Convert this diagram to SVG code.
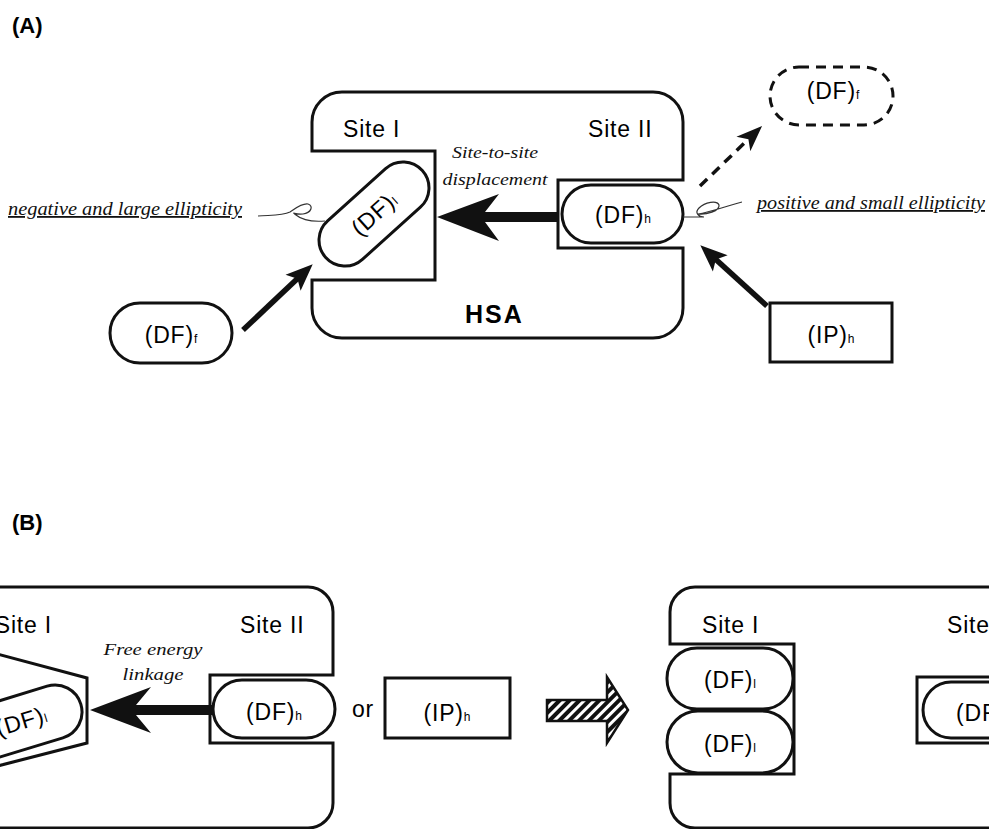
<svg xmlns="http://www.w3.org/2000/svg" width="989" height="829" viewBox="0 0 989 829">
  <style>
    .body { fill: none; stroke: #111; stroke-width: 3; stroke-linejoin: miter; }
    .pill { fill: #fff; stroke: #111; stroke-width: 3; }
    .dash { fill: #fff; stroke: #111; stroke-width: 3; stroke-dasharray: 10 7; }
    .lbl { font-family: "Liberation Sans", Arial, sans-serif; font-size: 23px; fill: #000; letter-spacing: 0.8px; }
    .sub { font-size: 12px; letter-spacing: 0; }
    .hsa { font-family: "Liberation Sans", Arial, sans-serif; font-size: 25px; font-weight: bold; fill: #000; letter-spacing: 2px; }
    .panel { font-family: "Liberation Sans", Arial, sans-serif; font-size: 22px; font-weight: bold; fill: #000; }
    .it { font-family: "Liberation Serif", "Times New Roman", serif; font-style: italic; font-size: 18px; fill: #111; }
    .note { font-family: "Liberation Serif", "Times New Roman", serif; font-style: italic; font-size: 16px; fill: #111; }
    .ul { text-decoration: underline; }
    .shaft { stroke: #111; stroke-width: 5.5; fill: none; }
    .dshaft { stroke: #111; stroke-width: 3.5; fill: none; stroke-dasharray: 10 7; }
    .curl { fill: none; stroke: #333; stroke-width: 1.2; }
    .big { fill: #111; }
  </style>
  <defs>
    <marker id="head" markerUnits="userSpaceOnUse" markerWidth="30" markerHeight="24" refX="12" refY="12" orient="auto">
      <path d="M0,1 L27,12 L0,23 L6,12 Z" fill="#111"/>
    </marker>
    <marker id="dhead" markerUnits="userSpaceOnUse" markerWidth="30" markerHeight="24" refX="12" refY="12" orient="auto">
      <path d="M0,2 L26,12 L0,22 L7,12 Z" fill="#111"/>
    </marker>
    <pattern id="hatch" patternUnits="userSpaceOnUse" width="7" height="7" patternTransform="rotate(45)">
      <rect width="7" height="7" fill="#fff"/>
      <rect width="4" height="7" fill="#111"/>
    </pattern>
  </defs>

  <rect width="989" height="829" fill="#fff"/>

  <!-- panel letters -->
  <text class="panel" x="12" y="33">(A)</text>
  <text class="panel" x="12" y="530">(B)</text>

  <!-- ===== Panel A ===== -->
  <g id="hsa-a">
    <path class="body" d="M312,151 V122 A30,30 0 0 1 342,92 H653 A30,30 0 0 1 683,122 V180 H558 V248 H683 V308 A30,30 0 0 1 653,338 H342 A30,30 0 0 1 312,308 V280 H435 V151 Z"/>
    <text class="lbl" x="343" y="137">Site I</text>
    <text class="lbl" x="588" y="137">Site II</text>
    <text class="hsa" x="465" y="323">HSA</text>
  </g>

  <g id="df-l-a">
    <g transform="rotate(-42 374 214)">
      <rect class="pill" x="309" y="188" width="130" height="52" rx="26"/>
      <text class="lbl" x="374" y="222" text-anchor="middle">(DF)<tspan class="sub">l</tspan></text>
    </g>
  </g>

  <g id="df-h-a">
    <rect class="pill" x="562" y="185" width="121" height="58" rx="29"/>
    <text class="lbl" x="623" y="223" text-anchor="middle">(DF)<tspan class="sub">h</tspan></text>
  </g>

  <g id="df-f-a">
    <rect class="pill" x="110" y="303" width="122" height="60" rx="30"/>
    <text class="lbl" x="171" y="343" text-anchor="middle">(DF)<tspan class="sub">f</tspan></text>
  </g>

  <g id="df-f-released">
    <rect class="dash" x="770" y="67" width="123" height="58" rx="29"/>
    <text class="lbl" x="833" y="99" text-anchor="middle">(DF)<tspan class="sub">f</tspan></text>
  </g>

  <g id="ip-h-a">
    <rect class="pill" x="770" y="303" width="122" height="59"/>
    <text class="lbl" x="831" y="343" text-anchor="middle">(IP)<tspan class="sub">h</tspan></text>
  </g>

  <g id="labels-a">
    <text class="it ul" x="8" y="215" textLength="234" lengthAdjust="spacingAndGlyphs">negative and large ellipticity</text>
    <text class="it ul" x="757" y="209" textLength="228" lengthAdjust="spacingAndGlyphs">positive and small ellipticity</text>
    <text class="note" x="495" y="158" text-anchor="middle" textLength="86" lengthAdjust="spacingAndGlyphs">Site-to-site</text>
    <text class="note" x="495" y="185" text-anchor="middle" textLength="105" lengthAdjust="spacingAndGlyphs">displacement</text>
  </g>

  <g id="connectors-a">
    <!-- ellipticity curls -->
    <path class="curl" d="M258,216 C270,215 282,216 290,212 C296,208 302,203 308,204 C314,206 311,213 303,214 C295,215 291,211 296,215 C302,220 312,222 325,221"/>
    <path class="curl" d="M683,217 L704,217 C699,217 694,213 699,208 C705,202 717,200 719,205 C720,211 706,215 698,214 C711,212 726,206 742,202"/>
    <!-- bound drug moves from site II to site I -->
    <path class="big" d="M437,217 L499,194 L485,212 L558,212 L558,222 L485,222 L499,241 Z"/>
    <!-- free drug binds site I -->
    <line class="shaft" x1="243" y1="330" x2="301.8" y2="274.6" marker-end="url(#head)"/>
    <!-- displacer binds site II -->
    <line class="shaft" x1="767" y1="306" x2="711.4" y2="255.4" marker-end="url(#head)"/>
    <!-- drug released from site II -->
    <line class="dshaft" x1="700" y1="186" x2="752" y2="135.7" marker-end="url(#dhead)"/>
  </g>

  <!-- ===== Panel B ===== -->
  <g id="hsa-b-left">
    <path class="body" d="M-10,587 H308 A25,25 0 0 1 333,612 V675 H210 V743 H333 V803 A25,25 0 0 1 308,828 H-10"/>
    <path class="body" d="M-10,652 L87,678 V743 L-10,768"/>
    <text class="lbl" x="52" y="633" text-anchor="end">Site I</text>
    <text class="lbl" x="240" y="633">Site II</text>
  </g>

  <g id="df-l-b">
    <g transform="rotate(-17 55 712)">
      <rect class="pill" x="-68" y="685" width="150" height="54" rx="27"/>
      <text class="lbl" x="20" y="719" text-anchor="middle">(DF)<tspan class="sub">l</tspan></text>
    </g>
  </g>

  <g id="df-h-b">
    <rect class="pill" x="213" y="680" width="122" height="58" rx="29"/>
    <text class="lbl" x="274" y="720" text-anchor="middle">(DF)<tspan class="sub">h</tspan></text>
  </g>

  <text class="lbl" x="352" y="717">or</text>

  <g id="ip-h-b">
    <rect class="pill" x="385" y="678" width="125" height="60"/>
    <text class="lbl" x="447" y="721" text-anchor="middle">(IP)<tspan class="sub">h</tspan></text>
  </g>

  <g id="connectors-b">
    <text class="note" x="153" y="655" text-anchor="middle" textLength="99" lengthAdjust="spacingAndGlyphs">Free energy</text>
    <text class="note" x="153" y="680" text-anchor="middle" textLength="61" lengthAdjust="spacingAndGlyphs">linkage</text>
    <path class="big" d="M90,710 L151,687 L136,705 L212,705 L212,715 L136,715 L151,733 Z"/>
    <!-- hatched transition arrow -->
    <path d="M547,700 H607 V677 L628,710 L607,743 V721 H547 Z" fill="url(#hatch)" stroke="#111" stroke-width="2.5" stroke-linejoin="miter"/>
  </g>

  <g id="hsa-b-right">
    <path class="body" d="M999,587 H695 A25,25 0 0 0 670,612 V644 H794 V774 H670 V803 A25,25 0 0 0 695,828 H999"/>
    <path class="body" d="M999,677 H917 V743 H999"/>
    <text class="lbl" x="702" y="633">Site I</text>
    <text class="lbl" x="947" y="633">Site II</text>
  </g>

  <g id="df-l-b1">
    <rect class="pill" x="667" y="648" width="126" height="61" rx="30"/>
    <text class="lbl" x="730" y="688" text-anchor="middle">(DF)<tspan class="sub">l</tspan></text>
  </g>
  <g id="df-l-b2">
    <rect class="pill" x="667" y="711" width="126" height="62" rx="31"/>
    <text class="lbl" x="730" y="752" text-anchor="middle">(DF)<tspan class="sub">l</tspan></text>
  </g>
  <g id="df-h-b-right">
    <rect class="pill" x="923" y="682" width="122" height="56" rx="28"/>
    <text class="lbl" x="984" y="721" text-anchor="middle">(DF)<tspan class="sub">h</tspan></text>
  </g>
</svg>
